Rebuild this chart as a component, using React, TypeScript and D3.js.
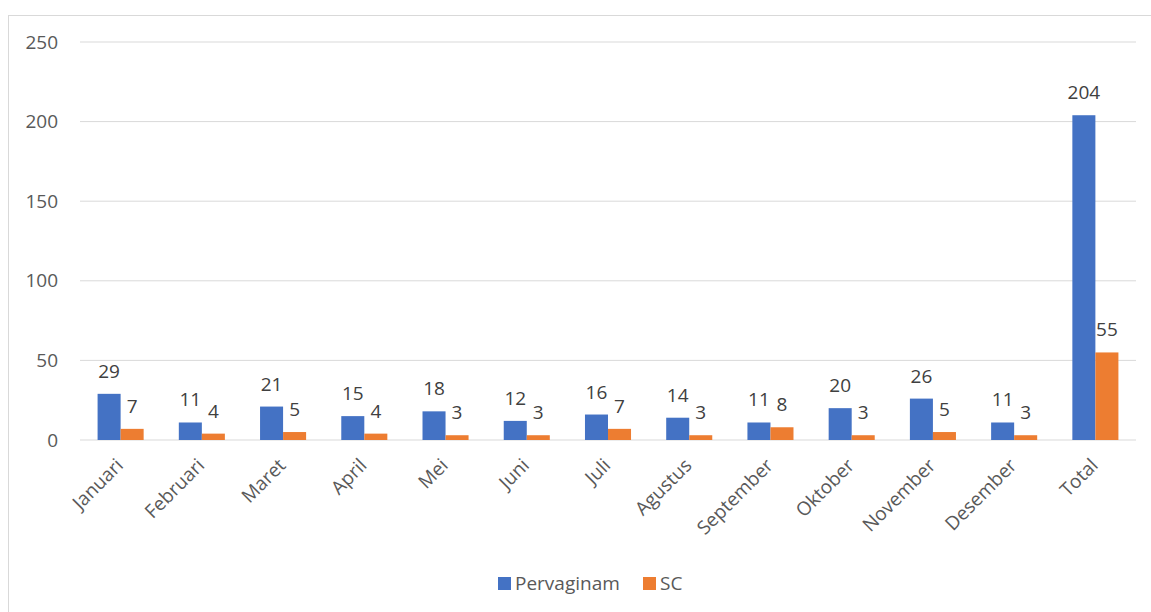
import React from "react";
import * as d3 from "d3";

const categories = [
  "Januari", "Februari", "Maret", "April", "Mei", "Juni", "Juli",
  "Agustus", "September", "Oktober", "November", "Desember", "Total",
];
const pervaginam = [29, 11, 21, 15, 18, 12, 16, 14, 11, 20, 26, 11, 204];
const sc = [7, 4, 5, 4, 3, 3, 7, 3, 8, 3, 5, 3, 55];
const seriesNames = ["Pervaginam", "SC"];
const seriesColors = ["#4472C4", "#ED7D31"];
const yTicks = [0, 50, 100, 150, 200, 250];

const W = 1151;
const H = 612;
const FONT = "'Open Sans', 'Noto Sans', sans-serif";

export default function App() {
  const x = d3.scaleBand<string>().domain(categories).range([80, 1136]).paddingInner(0.433).paddingOuter(0.2165);
  const xs = d3.scaleBand<string>().domain(seriesNames).range([0, x.bandwidth()]);
  const y = d3.scaleLinear().domain([0, 250]).range([440, 42]);
  const series = [pervaginam, sc];

  return (
    <svg width={W} height={H} style={{ position: "absolute", left: 0, top: 0, background: "#fff" }} fontFamily={FONT}>
      <rect x={8.5} y={15.5} width={W + 20} height={H + 20} fill="#fff" stroke="#d9d9d9" strokeWidth={1} />
      {yTicks.map((t) => (
        <g key={t}>
          <line x1={80} x2={1136} y1={y(t)} y2={y(t)} stroke="#d9d9d9" strokeWidth={1} />
          <text x={58} y={y(t)} dy="0.35em" textAnchor="end" fontSize={19} fill="#595959">{t}</text>
        </g>
      ))}
      {categories.map((c, i) => (
        <g key={c}>
          {series.map((vals, s) => {
            const bx = (x(c) ?? 0) + (xs(seriesNames[s]) ?? 0);
            const bw = xs.bandwidth();
            return (
              <g key={s}>
                <rect x={bx} y={y(vals[i])} width={bw} height={y(0) - y(vals[i])} fill={seriesColors[s]} />
                <text x={bx + bw / 2} y={y(vals[i]) - 16} textAnchor="middle" fontSize={19} fill="#404040">{vals[i]}</text>
              </g>
            );
          })}
          <text
            transform={`translate(${(x(c) ?? 0) + x.bandwidth() / 2 - 1},${462}) rotate(-45)`}
            textAnchor="end"
            dy="0.35em"
            fontSize={19}
            fill="#595959"
          >{c}</text>
        </g>
      ))}
      {seriesNames.map((n, s) => {
        const lx = s === 0 ? 498 : 643;
        return (
          <g key={n}>
            <rect x={lx} y={577} width={13} height={13} fill={seriesColors[s]} />
            <text x={lx + 17} y={583.5} dy="0.35em" fontSize={19} fill="#595959">{n}</text>
          </g>
        );
      })}
    </svg>
  );
}
